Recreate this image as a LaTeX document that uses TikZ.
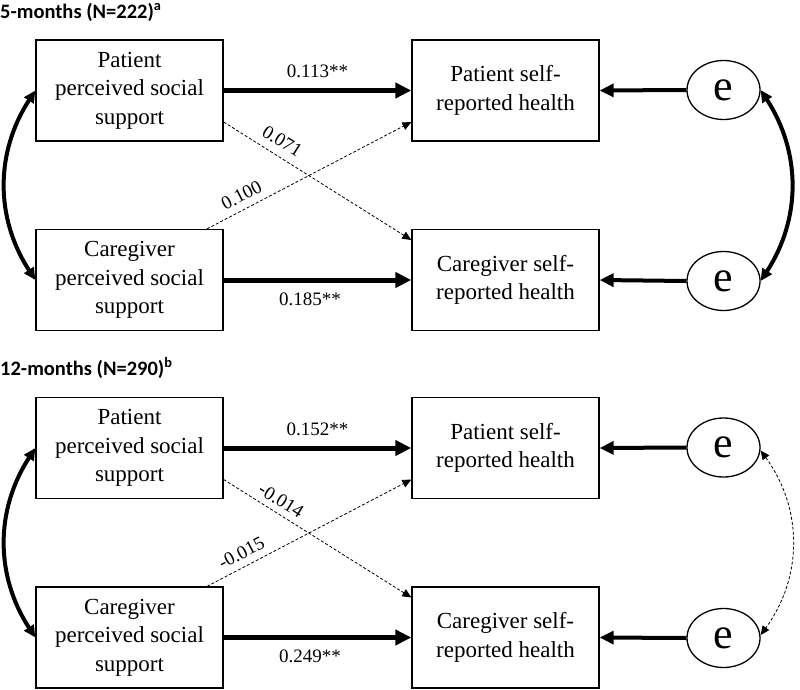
\documentclass[tikz,border=0pt]{standalone}
\usepackage{fontspec}
\setmainfont{Liberation Serif}
\newfontfamily\titlefont{Carlito}
\usetikzlibrary{arrows.meta,shapes.geometric}
\begin{document}
\begin{tikzpicture}[x=1pt,y=-1pt,
  box/.style={draw,line width=1.3pt,minimum width=187pt,minimum height=101pt,inner sep=0pt,align=center,font=\fontsize{23}{28.5}\selectfont},
  err/.style={draw,ellipse,line width=1.3pt,minimum width=73pt,minimum height=59pt,inner sep=0pt,font=\fontsize{44}{44}\selectfont},
  title/.style={anchor=west,inner sep=0pt,font=\titlefont\bfseries\fontsize{20.5}{24}\selectfont},
  strongarrow/.style={line width=5pt,-{Triangle[length=16pt,width=15pt]}},
  errarrow/.style={line width=4pt,-{Triangle[length=14pt,width=13pt]}},
  weakarrow/.style={line width=0.8pt,dashed,dash pattern=on 3pt off 2pt,-{Triangle[length=9pt,width=8pt]}},
  covthick/.style={line width=4pt,{Triangle[length=12pt,width=11pt]}-{Triangle[length=12pt,width=11pt]}},
  covdash/.style={line width=0.8pt,dash pattern=on 3pt off 2pt,{Triangle[length=9pt,width=8pt]}-{Triangle[length=9pt,width=8pt]}},
  coef/.style={font=\fontsize{19}{22}\selectfont,inner sep=2pt}
]
\useasboundingbox (0,0) rectangle (800,690);

% ---------- 5 months ----------
\node[title] (t1) at (0,12) {5-months (N=222)\textsuperscript{a}};
\node[box] (pp1) at (129.5,90.5) {Patient\\perceived social\\support};
\node[box] (cp1) at (129.5,280) {Caregiver\\perceived social\\support};
\node[box] (ph1) at (505.5,90.5) {Patient self-\\reported health};
\node[box] (ch1) at (505.5,280) {Caregiver self-\\reported health};
\node[err] (e11) at (723.5,90) {e};
\node[err] (e12) at (723.5,281) {e};

\draw[strongarrow] (pp1.east) -- node[coef,above=8pt]{0.113**} (ph1.west);
\draw[strongarrow] (cp1.east) -- node[coef,below=8pt,pos=0.46]{0.185**} (ch1.west);
\draw[weakarrow] ([yshift=-31.5pt]pp1.east) -- node[coef,sloped,above=6pt,pos=0.27]{0.071} ([yshift=40pt]ch1.west);
\draw[weakarrow] ([xshift=77.5pt]cp1.north) -- node[coef,sloped,above=5pt,pos=0.2]{0.100} ([yshift=-31.5pt]ph1.west);
\draw[errarrow] (e11.west) -- (ph1.east);
\draw[errarrow] (e12.west) -- (ch1.east);
\draw[covthick] (pp1.west) to[bend right=33] (cp1.west);
\draw[covthick] (e11.east) to[bend left=33] (e12.east);

% ---------- 12 months ----------
\node[title] (t2) at (0,368) {12-months (N=290)\textsuperscript{b}};
\node[box] (pp2) at (129.5,448) {Patient\\perceived social\\support};
\node[box] (cp2) at (129.5,637.5) {Caregiver\\perceived social\\support};
\node[box] (ph2) at (505.5,448) {Patient self-\\reported health};
\node[box] (ch2) at (505.5,637.5) {Caregiver self-\\reported health};
\node[err] (e21) at (723.5,447.5) {e};
\node[err] (e22) at (723.5,638) {e};

\draw[strongarrow] (pp2.east) -- node[coef,above=8pt]{0.152**} (ph2.west);
\draw[strongarrow] (cp2.east) -- node[coef,below=8pt,pos=0.46]{0.249**} (ch2.west);
\draw[weakarrow] ([yshift=-31.5pt]pp2.east) -- node[coef,sloped,above=4pt,pos=0.27]{-0.014} ([yshift=40pt]ch2.west);
\draw[weakarrow] ([xshift=77.5pt]cp2.north) -- node[coef,sloped,above=5pt,pos=0.2]{-0.015} ([yshift=-31.5pt]ph2.west);
\draw[errarrow] (e21.west) -- (ph2.east);
\draw[errarrow] (e22.west) -- (ch2.east);
\draw[covthick] (pp2.west) to[bend right=33] (cp2.west);
\draw[covdash] ([yshift=-3pt]e21.east) to[bend left=36] ([yshift=3pt]e22.east);
\end{tikzpicture}
\end{document}
